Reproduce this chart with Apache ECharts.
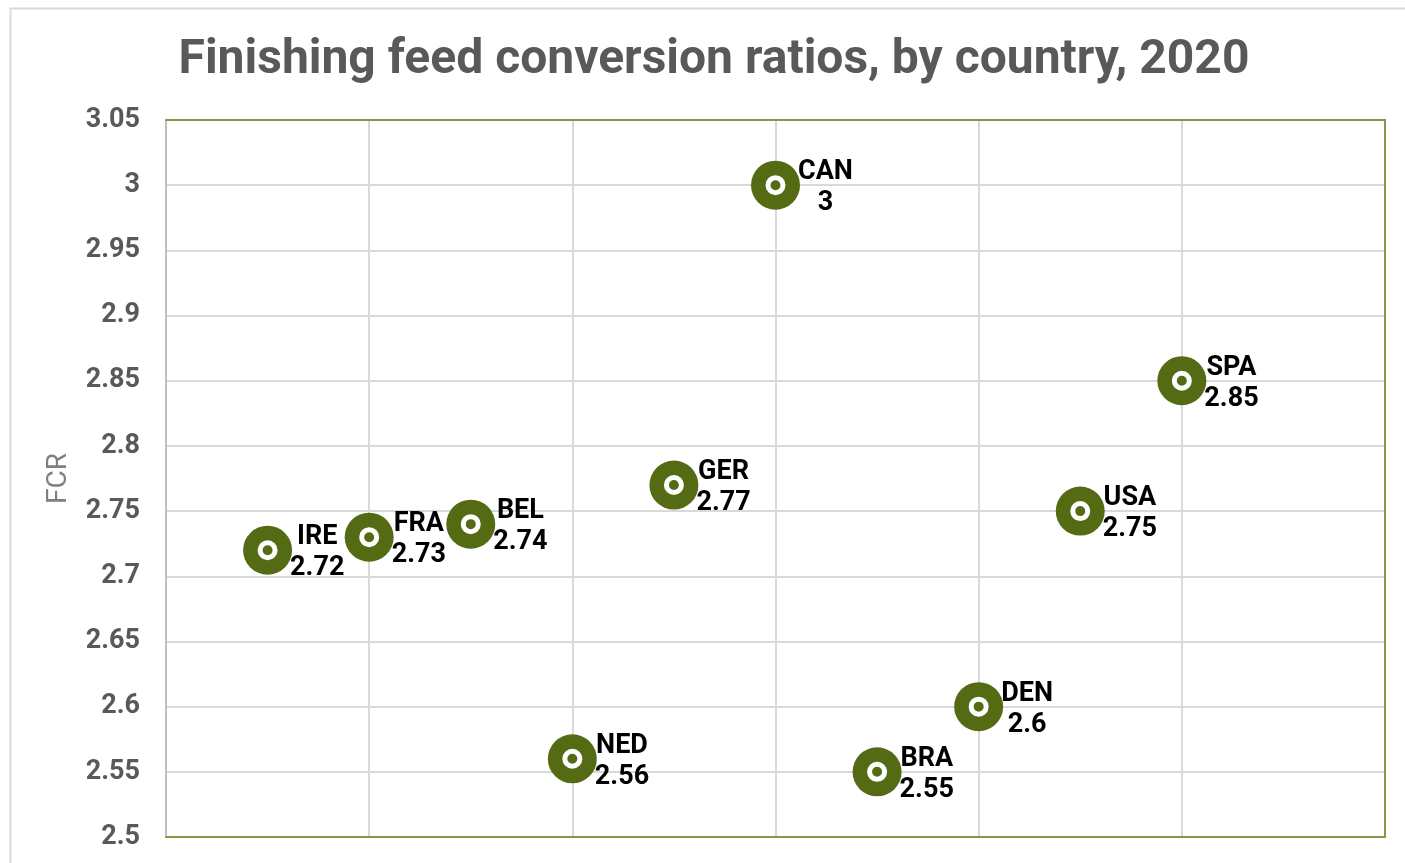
<!DOCTYPE html>
<html>
<head>
<meta charset="utf-8">
<script src="https://cdn.jsdelivr.net/npm/echarts@6/dist/echarts.min.js"></script>
<style>
  html, body { margin: 0; padding: 0; background: #ffffff; }
  #chart { width: 1405px; height: 863px; }
</style>
</head>
<body>
<div id="chart"></div>
<script>
// ---- Data ----
const countries = ['IRE', 'FRA', 'BEL', 'NED', 'GER', 'CAN', 'BRA', 'DEN', 'USA', 'SPA'];
const xPositions = [1, 2, 3, 4, 5, 6, 7, 8, 9, 10];
const fcrValues = [2.72, 2.73, 2.74, 2.56, 2.77, 3.00, 2.55, 2.60, 2.75, 2.85];
const titleText = 'Finishing feed conversion ratios, by country, 2020';
const yAxisName = 'FCR';

const olive = '#546B14';
const borderOlive = '#7F9A48';
const labelFont = 'bold 27px Roboto';

const ctx = document.createElement('canvas').getContext('2d');
ctx.font = labelFont;
const points = countries.map((c, i) => {
  const valText = String(fcrValues[i]);
  const w = Math.max(ctx.measureText(c).width, ctx.measureText(valText).width);
  return {
    name: c,
    value: [xPositions[i], fcrValues[i]],
    label: { offset: [w / 2, 3] }
  };
});

const chart = echarts.init(document.getElementById('chart'), null, { renderer: 'canvas' });
chart.setOption({
  backgroundColor: '#ffffff',
  animation: false,
  title: {
    text: titleText,
    left: 709,
    top: 32,
    textAlign: 'center',
    textStyle: { fontFamily: 'Roboto', fontWeight: 'bold', fontSize: 48, color: '#595959' }
  },
  graphic: [{
    type: 'rect',
    shape: { x: 10.5, y: 8.5, width: 1420, height: 880 },
    style: { fill: 'none', stroke: '#d9d9d9', lineWidth: 2 },
    silent: true
  }],
  grid: {
    left: 166, top: 120, right: 20, bottom: 26,
    show: false
  },
  xAxis: [{
    type: 'value', min: 0, max: 12, interval: 2,
    axisLine: { show: true, lineStyle: { color: borderOlive, width: 2 } },
    axisTick: { show: false },
    axisLabel: { show: false },
    splitLine: { show: true, lineStyle: { color: '#d9d9d9', width: 2 } }
  }, {
    type: 'value', min: 0, max: 12, interval: 2, position: 'top',
    axisLine: { show: true, onZero: false, lineStyle: { color: borderOlive, width: 2 } },
    axisTick: { show: false },
    axisLabel: { show: false },
    splitLine: { show: false }
  }],
  yAxis: [{
    type: 'value', min: 2.5, max: 3.05, interval: 0.05,
    name: yAxisName, nameLocation: 'middle', nameGap: 93, nameRotate: 90,
    nameTextStyle: { fontFamily: 'Roboto', fontSize: 28, color: '#7f7f7f' },
    axisLine: { show: true, lineStyle: { color: '#bfbfbf', width: 2 } },
    axisTick: { show: false },
    axisLabel: {
      margin: 26,
      fontFamily: 'Roboto', fontWeight: 'bold', fontSize: 27, color: '#595959',
      formatter: v => String(+v.toFixed(2))
    },
    splitLine: { show: true, lineStyle: { color: '#d9d9d9', width: 2 } }
  }, {
    type: 'value', min: 2.5, max: 3.05, interval: 0.05, position: 'right',
    axisLine: { show: true, onZero: false, lineStyle: { color: borderOlive, width: 2 } },
    axisTick: { show: false },
    axisLabel: { show: false },
    splitLine: { show: false }
  }],
  series: [
    {
      type: 'scatter', data: points, symbol: 'circle', symbolSize: 49,
      xAxisIndex: 0, yAxisIndex: 0,
      itemStyle: { color: olive, opacity: 1 },
      label: {
        show: true, position: 'right', distance: -2,
        formatter: p => p.name + '\n' + p.value[1],
        align: 'center',
        fontFamily: 'Roboto', fontWeight: 'bold', fontSize: 27, color: '#000000',
        lineHeight: 31
      },
      z: 3
    },
    {
      type: 'scatter', data: points.map(p => ({ name: p.name, value: p.value })),
      symbol: 'circle', symbolSize: 15,
      xAxisIndex: 0, yAxisIndex: 0,
      itemStyle: { color: olive, borderColor: '#ffffff', borderWidth: 5, opacity: 1 },
      label: { show: false },
      z: 4
    }
  ]
});
</script>
</body>
</html>
